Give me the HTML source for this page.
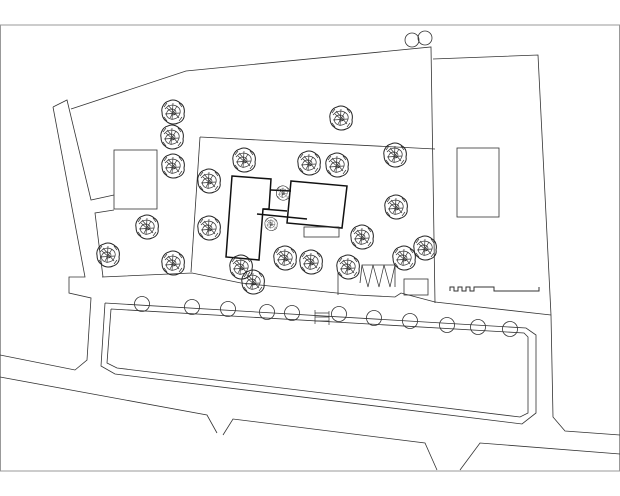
<!DOCTYPE html>
<html><head><style>
html,body{margin:0;padding:0;background:#fff;width:620px;height:496px;overflow:hidden}
svg{display:block}
</style></head><body>
<svg width="620" height="496" viewBox="0 0 620 496" xmlns="http://www.w3.org/2000/svg">
<defs>
<g id="t">
<path d="M-11,0 C-12,-4 -9,-10 -4,-11 C-1,-13 4,-12 7,-9 C11,-7 12,-2 11,2 C12,6 9,10 5,11 C1,13 -4,12 -7,9 C-10,7 -11,4 -11,0 Z" fill="none" stroke="#222" stroke-width="1"/>
<path d="M-8,-3 C-4,-8 2,-8 6,-4 C9,0 6,6 1,7 C-4,8 -8,4 -6,0 C-4,-4 2,-4 3,0 C3,3 -1,4 -2,1" fill="none" stroke="#333" stroke-width="0.7"/>
<path d="M-6,-4 L2,3 M-3,6 L4,-6 M-8,2 L7,1 M0,-9 L-1,8 M-5,-7 L6,6 M-9,-5 L-6,-9 M6,-9 L9,-5 M-9,5 L-6,9 M6,9 L9,5" stroke="#333" stroke-width="0.7" fill="none"/>
</g>
</defs>
<rect x="0.5" y="25" width="619" height="446" fill="none" stroke="#999" stroke-width="1"/>
<g fill="none" stroke="#333" stroke-width="0.8">
<polyline points="71,109 186,71 431,47 435,303"/>
<polyline points="433,59 538,55 551,315 553,417 565,431 620,435"/>
<line x1="435" y1="302" x2="551" y2="315"/>
<polyline points="53,107 67,100 91,200 114,195"/>
<polyline points="53,107 85,277 69,277 69,293 91,298 87,360 75,370 0,355"/>
<polyline points="114,210 95,213 103,277"/>
<rect x="114" y="150" width="43" height="59"/>
<rect x="457" y="148" width="42" height="69"/>
<polyline points="0,377 207,415 217,433"/>
<polyline points="223,435 233,419 425,443 437,470"/>
<polyline points="460,470 480,443 620,454"/>
<polyline points="200,137 435,149"/>
<polyline points="200,137 191,272"/>
<polyline points="102,277 192,273 241,283 356,295 395,297 401,293 435,302"/>
<line x1="338" y1="273" x2="338" y2="295"/>
<polyline points="360,283 362,265 395,265 395,287"/>
<path d="M362,265 L368,287 L373,265 L379,287 L384,265 L390,287 L395,265" stroke-width="0.7"/>
<rect x="404" y="279" width="24" height="16"/>
<path d="M450,291 L450,287 L454,287 L454,291 L458,291 L458,287 L462,287 L462,291 L466,291 L466,287 L470,287 L470,291 L474,291 L474,287 L494,287 L494,291 L539,291 L539,287" stroke-width="1"/>
<polyline points="105,303 526,328 536,335 536,413 522,424 115,374 101,366 105,303"/>
<polyline points="111,309 524,333 528,337 528,413 520,417 117,368 107,363 111,309"/>
<path d="M315,310 V324 M329,311 V325 M315,313 H329 M315,317 H329 M315,321 H329" stroke-width="0.7"/>
</g>
<g fill="none" stroke="#111" stroke-width="1.5">
<polygon points="232,176 271,179 269,209 263,209 259,260 226,257"/>
<polygon points="291,181 347,186 342,228 287,223"/>
<line x1="263" y1="209" x2="287" y2="211"/>
<line x1="257" y1="214" x2="307" y2="219"/>
<line x1="271" y1="190" x2="291" y2="191"/>
</g>
<rect x="304" y="227" width="35" height="10" fill="none" stroke="#333" stroke-width="0.8"/>
<g fill="none" stroke="#333" stroke-width="0.8">
<ellipse cx="142" cy="304" rx="7.5" ry="7.5"/>
<ellipse cx="192" cy="307" rx="7.5" ry="7.5"/>
<ellipse cx="228" cy="309" rx="7.5" ry="7.5"/>
<ellipse cx="267" cy="312" rx="7.5" ry="7.5"/>
<ellipse cx="292" cy="313" rx="7.5" ry="7.5"/>
<ellipse cx="339" cy="314" rx="7.5" ry="7.5"/>
<ellipse cx="374" cy="318" rx="7.5" ry="7.5"/>
<ellipse cx="410" cy="321" rx="7.5" ry="7.5"/>
<ellipse cx="447" cy="325" rx="7.5" ry="7.5"/>
<ellipse cx="478" cy="327" rx="7.5" ry="7.5"/>
<ellipse cx="510" cy="329" rx="7.5" ry="7.5"/>
<circle cx="412" cy="40" r="7"/>
<circle cx="425" cy="38" r="7"/>
</g>
<use href="#t" x="173" y="112"/>
<use href="#t" x="172" y="137"/>
<use href="#t" x="173" y="166"/>
<use href="#t" x="341" y="118"/>
<use href="#t" x="244" y="160"/>
<use href="#t" x="309" y="163"/>
<use href="#t" x="337" y="165"/>
<use href="#t" x="395" y="155"/>
<use href="#t" x="209" y="181"/>
<use href="#t" x="396" y="207"/>
<use href="#t" x="209" y="228"/>
<use href="#t" x="147" y="227"/>
<use href="#t" x="108" y="255"/>
<use href="#t" x="173" y="263"/>
<use href="#t" x="362" y="237"/>
<use href="#t" x="425" y="248"/>
<use href="#t" x="404" y="258"/>
<use href="#t" x="348" y="267"/>
<use href="#t" x="285" y="258"/>
<use href="#t" x="311" y="262"/>
<use href="#t" x="241" y="267"/>
<use href="#t" x="253" y="282"/>
<use href="#t" transform="translate(283,193) scale(0.6)"/>
<use href="#t" transform="translate(271,224) scale(0.55)"/>
</svg>
</body></html>
